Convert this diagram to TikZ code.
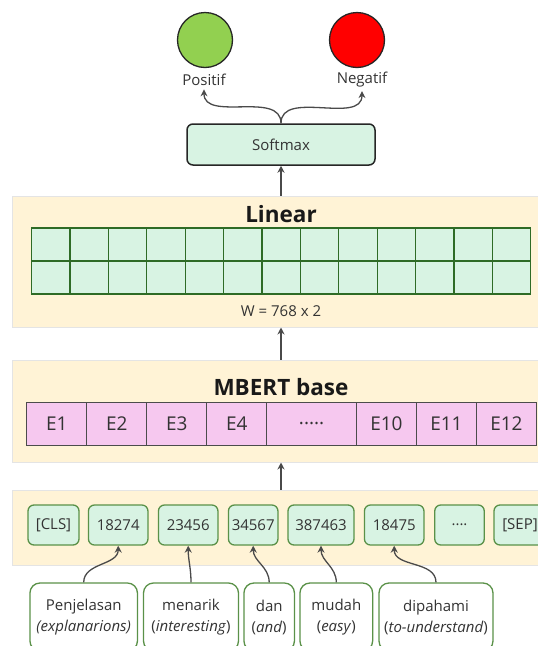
\documentclass[tikz,border=0pt]{standalone}
\usepackage{fontspec}
\setmainfont{Open Sans}
\usetikzlibrary{arrows.meta}

\definecolor{bandfill}{HTML}{FFF3D6}
\definecolor{bandline}{HTML}{E4E4E4}
\definecolor{mint}{HTML}{D8F3E3}
\definecolor{tokline}{HTML}{5A9148}
\definecolor{gridline}{HTML}{2E6B26}
\definecolor{cellpink}{HTML}{F6C8EF}
\definecolor{posgreen}{HTML}{92D050}
\definecolor{neged}{HTML}{FF0000}
\definecolor{wire}{HTML}{4A4A4A}

\begin{document}
\begin{tikzpicture}[x=1pt, y=-1pt,
    every node/.style={font=\fontsize{15}{18}\selectfont, text=black!80},
    band/.style={draw=bandline, fill=bandfill, line width=1pt, inner sep=0pt},
    title/.style={font=\fontsize{22.5}{26}\selectfont\bfseries, text=black!90},
    tok/.style={draw=tokline, fill=mint, rounded corners=6pt, line width=1.3pt,
        minimum height=40pt, inner sep=0pt},
    word/.style={draw=tokline, fill=white, rounded corners=10pt, line width=1.3pt,
        minimum height=68pt, inner sep=0pt, align=center,
        font=\fontsize{15}{21}\selectfont},
    ecell/.style={draw=black!70, fill=cellpink, line width=1pt, minimum height=43pt,
        inner sep=0pt, outer sep=0pt, font=\fontsize{19}{22}\selectfont},
    outc/.style={circle, draw=black!85, line width=1.3pt, minimum size=55pt},
    arr/.style={draw=wire, line width=1.3pt, -{Stealth[length=7pt,width=7pt]}}]

    \useasboundingbox (0,0) rectangle (538,646);
    \clip (0,0) rectangle (538,646);

    % output classes
    \node[outc, fill=posgreen] (cpos) at (205,40) {};
    \node[outc, fill=neged] (cneg) at (357,40) {};
    \node (lpos) at (204,80) {Positif};
    \node (lneg) at (362,80) {Negatif};

    \node[draw=black!85, fill=mint, rounded corners=6pt, line width=1.5pt,
        minimum width=188pt, minimum height=41pt] (soft) at (281,144.5) {Softmax};
    \draw[arr] (soft.north) to[out=90, in=-90] (lpos.south);
    \draw[arr] (soft.north) to[out=90, in=-90] (lneg.south);

    % linear layer
    \node[band, minimum width=560pt, minimum height=131pt] (linband) at (292,261.5) {};
    \node[title] (lintitle) at (281,214) {Linear};
    \foreach \c in {0,...,12}
        \foreach \r in {0,1}
            \draw[draw=gridline, fill=mint, line width=1.3pt]
                (31.6+\c*38.4, 228+\r*33) rectangle +(38.4,33);
    \node (wdim) at (281,311.5) {W = 768 x 2};
    \draw[arr] (soft.south |- linband.north) -- (soft.south);

    % mbert encoder
    \node[band, minimum width=560pt, minimum height=102pt] (mbband) at (292,411) {};
    \node[title] (mbtitle) at (281,387) {MBERT base};
    \node[ecell, minimum width=60pt, anchor=west] (e1) at (26.8,423.5) {E1};
    \node[ecell, minimum width=60pt, anchor=west] (e2) at (e1.east) {E2};
    \node[ecell, minimum width=60pt, anchor=west] (e3) at (e2.east) {E3};
    \node[ecell, minimum width=60pt, anchor=west] (e4) at (e3.east) {E4};
    \node[ecell, minimum width=89.6pt, anchor=west] (edots) at (e4.east) {.....};
    \node[ecell, minimum width=60pt, anchor=west] (e10) at (edots.east) {E10};
    \node[ecell, minimum width=60pt, anchor=west] (e11) at (e10.east) {E11};
    \node[ecell, minimum width=60pt, anchor=west] (e12) at (e11.east) {E12};
    \draw[arr] (soft.south |- mbband.north) -- (soft.south |- linband.south);

    % token ids
    \node[band, minimum width=560pt, minimum height=75pt] (tkband) at (292,527.5) {};
    \node[tok, minimum width=51pt] (t1) at (53.5,525) {[CLS]};
    \node[tok, minimum width=59.5pt] (t2) at (118.2,525) {18274};
    \node[tok, minimum width=59.5pt] (t3) at (188.2,525) {23456};
    \node[tok, minimum width=49.5pt] (t4) at (253.2,525) {34567};
    \node[tok, minimum width=66pt] (t5) at (321,525) {387463};
    \node[tok, minimum width=59.5pt] (t6) at (394.2,525) {18475};
    \node[tok, minimum width=49.5pt] (t7) at (459.5,525) {....};
    \node[tok, minimum width=52pt] (t8) at (520,525) {[SEP]};
    \draw[arr] (soft.south |- tkband.north) -- (soft.south |- mbband.south);

    % input words
    \node[word, minimum width=107.5pt] (w1) at (83.7,617) {Penjelasan\\\textit{(explanarions)}};
    \node[word, minimum width=95pt] (w2) at (191,617) {menarik\\(\textit{interesting})};
    \node[word, minimum width=50.5pt] (w3) at (269.2,617) {dan\\(\textit{and})};
    \node[word, minimum width=72.7pt] (w4) at (336.3,617) {mudah\\(\textit{easy})};
    \node[word, minimum width=114pt] (w5) at (436,617) {dipahami\\(\textit{to-understand})};

    \draw[arr] (w1.north) to[out=90, in=-90] (t2.south);
    \draw[arr] (w2.north) to[out=90, in=-90] (t3.south);
    \draw[arr] (w3.north) to[out=90, in=-90] (t4.south);
    \draw[arr] (w4.north) to[out=90, in=-90] (t5.south);
    \draw[arr] (w5.north) to[out=90, in=-90] (t6.south);
\end{tikzpicture}
\end{document}
